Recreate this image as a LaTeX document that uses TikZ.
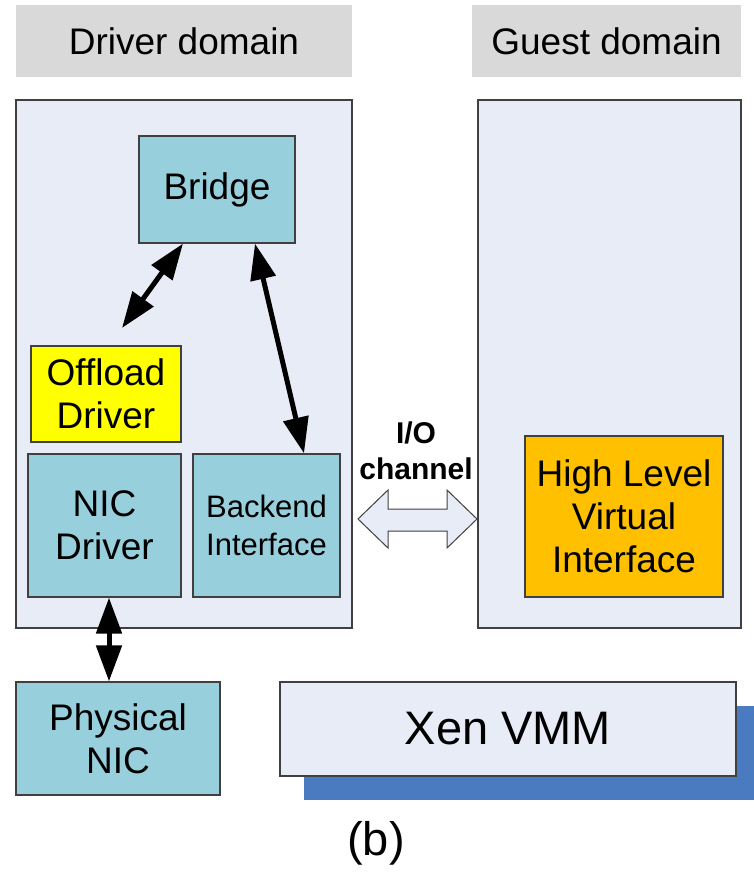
\documentclass[tikz,border=0pt]{standalone}
\usepackage{fontspec}
\setmainfont{Liberation Sans}
\usetikzlibrary{arrows.meta,shadows}

\definecolor{hdrgray}{HTML}{D9D9D9}
\definecolor{dompale}{HTML}{E7ECF6}
\definecolor{nicteal}{HTML}{97CFDC}
\definecolor{offyellow}{HTML}{FFFF00}
\definecolor{hlvorange}{HTML}{FFC000}
\definecolor{vmmblue}{HTML}{4A7AC0}
\definecolor{edgegray}{HTML}{404040}

\begin{document}
\begin{tikzpicture}[x=1pt, y=-1pt,
  header/.style={fill=hdrgray, minimum width=#1, minimum height=72, inner sep=0, font=\fontsize{37}{43}\selectfont},
  dombox/.style={draw=edgegray, fill=dompale, line width=1.2pt, inner sep=0},
  block/.style={draw=edgegray, fill=nicteal, line width=1.2pt, inner sep=0, align=center, font=\fontsize{37}{43}\selectfont},
  dblarrow/.style={line width=5pt, {Triangle[length=36pt,width=25pt]}-{Triangle[length=36pt,width=25pt]}}]

    \useasboundingbox (0,0) rectangle (753,894);

    \node[header=336] at (184,41) (drvhdr) {Driver domain};
    \node[header=269] at (606.5,41) (gsthdr) {Guest domain};

    \node[dombox, minimum width=336, minimum height=528] at (184,364) (drvdom) {};
    \node[dombox, minimum width=263, minimum height=528] at (609.5,364) (gstdom) {};

    \node[block, minimum width=156, minimum height=107] at (217,189.5) (bridge) {Bridge};
    \node[block, fill=offyellow, minimum width=150, minimum height=96] at (106,394) (offload) {Offload\\Driver};
    \node[block, minimum width=153, minimum height=143] at (104.5,525.5) (nicdrv) {NIC\\Driver};
    \node[block, minimum width=147, minimum height=143, font=\fontsize{31}{38}\selectfont] at (266.5,525.5) (backend) {Backend\\Interface};
    \node[block, fill=hlvorange, minimum width=198, minimum height=161] at (624,516.5) (hlvif) {High Level\\Virtual\\Interface};
    \node[block, minimum width=204, minimum height=113] at (118,738.5) (physnic) {Physical\\NIC};
    \node[block, fill=dompale, minimum width=456, minimum height=94, font=\fontsize{47}{50}\selectfont,
          drop shadow={fill=vmmblue, opacity=1, shadow xshift=24pt, shadow yshift=-24pt}] at (508,729) (xenvmm) {Xen VMM};

    \node[font=\bfseries\fontsize{30}{36}\selectfont, align=center] at (416,451) (iolabel) {I/O\\channel};
    \node[font=\fontsize{47}{50}\selectfont] at (376,843) (caption) {(b)};

    % I/O channel block arrow
    \draw[draw=edgegray, fill=dompale, line width=1pt] (358,519) -- (388,490) -- (388,509) -- (447,509) -- (447,490) -- (477,519)
        -- (447,548) -- (447,531) -- (388,531) -- (388,548) -- cycle;

    \coordinate (offtip) at (122,328);
    \draw[dblarrow] ([xshift=-34]bridge.south) -- (offtip);
    \draw[dblarrow] ([xshift=38]bridge.south) -- ([xshift=37.5]backend.north);
    \draw[dblarrow] ([xshift=4.5]nicdrv.south) -- ([xshift=-9]physnic.north);

\end{tikzpicture}
\end{document}
